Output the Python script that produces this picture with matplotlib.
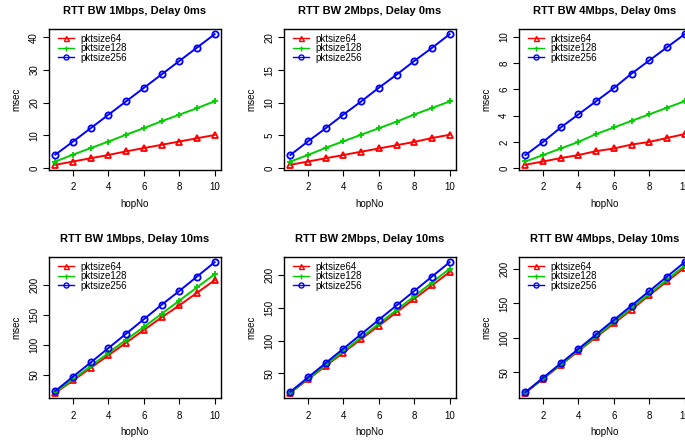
import matplotlib
matplotlib.use("Agg")
import matplotlib.pyplot as plt

plt.rcParams['font.family'] = ['Liberation Sans', 'DejaVu Sans']

hops = [1, 2, 3, 4, 5, 6, 7, 8, 9, 10]
series_names = ["pktsize64", "pktsize128", "pktsize256"]

titles = [
    "RTT BW 1Mbps, Delay 0ms", "RTT BW 2Mbps, Delay 0ms", "RTT BW 4Mbps, Delay 0ms",
    "RTT BW 1Mbps, Delay 10ms", "RTT BW 2Mbps, Delay 10ms", "RTT BW 4Mbps, Delay 10ms",
]

# delay 0ms
bw1_d0_64 = [1.0, 2.0, 3.0, 4.0, 5.1, 6.1, 7.1, 8.1, 9.1, 10.1]
bw1_d0_128 = [2.0, 4.1, 6.1, 8.1, 10.2, 12.2, 14.3, 16.3, 18.3, 20.4]
bw1_d0_256 = [4.1, 8.1, 12.2, 16.3, 20.4, 24.5, 28.6, 32.7, 36.8, 40.9]

bw2_d0_64 = [0.5, 1.0, 1.5, 2.0, 2.5, 3.0, 3.5, 4.0, 4.6, 5.1]
bw2_d0_128 = [1.0, 2.0, 3.1, 4.1, 5.1, 6.1, 7.1, 8.2, 9.2, 10.2]
bw2_d0_256 = [2.0, 4.1, 6.1, 8.2, 10.2, 12.3, 14.3, 16.4, 18.4, 20.5]

bw4_d0_64 = [0.26, 0.51, 0.77, 1.0, 1.3, 1.5, 1.8, 2.0, 2.3, 2.6]
bw4_d0_128 = [0.51, 1.0, 1.5, 2.0, 2.6, 3.1, 3.6, 4.1, 4.6, 5.1]
bw4_d0_256 = [1.0, 2.0, 3.1, 4.1, 5.1, 6.1, 7.2, 8.2, 9.2, 10.2]

# delay 10ms
bw1_d10_64 = [20.5, 41, 62, 83, 104, 125, 146, 166, 187, 208]
bw1_d10_128 = [21.5, 43, 65, 87, 109, 130, 152, 174, 196, 218]
bw1_d10_256 = [23.5, 47.5, 71, 95, 119, 143, 167, 190, 214, 238]

bw2_d10_64 = [20.5, 41, 61.5, 82, 102.5, 123, 143.5, 164, 184.5, 205]
bw2_d10_128 = [21, 42, 63, 84, 105, 126, 147, 168, 189, 210]
bw2_d10_256 = [22, 44, 66, 88, 110, 132, 154, 176, 198, 220]

bw4_d10_64 = [20.2, 40.4, 60.6, 80.8, 101, 121, 141, 162, 182, 202]
bw4_d10_128 = [20.5, 41, 61.5, 82, 102.5, 123, 143.5, 164, 184.5, 205]
bw4_d10_256 = [21, 42, 63, 84, 105, 126, 147, 168, 189, 210]

panels = [
    (bw1_d0_64, bw1_d0_128, bw1_d0_256),
    (bw2_d0_64, bw2_d0_128, bw2_d0_256),
    (bw4_d0_64, bw4_d0_128, bw4_d0_256),
    (bw1_d10_64, bw1_d10_128, bw1_d10_256),
    (bw2_d10_64, bw2_d10_128, bw2_d10_256),
    (bw4_d10_64, bw4_d10_128, bw4_d10_256),
]

yticks = [
    [0, 10, 20, 30, 40], [0, 5, 10, 15, 20], [0, 2, 4, 6, 8, 10],
    [50, 100, 150, 200], [50, 100, 150, 200], [50, 100, 150, 200],
]

colors = ["#ff0000", "#00cd00", "#0000ff"]
markers = ["^", "+", "o"]

W, H = 685, 440
fig = plt.figure(figsize=(W / 100, H / 100), dpi=100)

lefts = [49, 284, 519]
tops = [29, 257]
aw, ah = 172, 141

for i in range(6):
    r, c = divmod(i, 3)
    ax = fig.add_axes([lefts[c] / W, (H - tops[r] - ah) / H, aw / W, ah / H])
    for vals, col, mk, name in zip(panels[i], colors, markers, series_names):
        ax.plot(hops, vals, color=col, lw=1.4, marker=mk, ms=4.5,
                mfc="none", mec=col, mew=1.3, label=name)
    ax.margins(x=0.04, y=0.04)
    ax.set_xticks([2, 4, 6, 8, 10])
    ax.set_yticks(yticks[i])
    ax.tick_params(length=4, width=0.8, labelsize=7)
    ax.tick_params(axis="x", pad=5)
    ax.tick_params(axis="y", pad=3)
    for lab in ax.get_yticklabels():
        lab.set_rotation(90)
        lab.set_va("center")
    for s in ax.spines.values():
        s.set_linewidth(1.0)
    ax.set_title(titles[i], fontsize=8, fontweight="bold", pad=11)
    ax.set_xlabel("hopNo", fontsize=7, labelpad=4.5)
    ax.set_ylabel("msec", fontsize=7, labelpad=5.5)
    leg = ax.legend(loc="upper left", bbox_to_anchor=(0.03, 0.995),
                    frameon=False, fontsize=7, handlelength=1.65,
                    handletextpad=0.6, labelspacing=-0.05, borderaxespad=0,
                    borderpad=0.4, markerscale=0.8)
    for ln in leg.get_lines():
        ln.set_linewidth(1.0)
        ln.set_markeredgewidth(1.0)

fig.savefig("out.png", dpi=100)
